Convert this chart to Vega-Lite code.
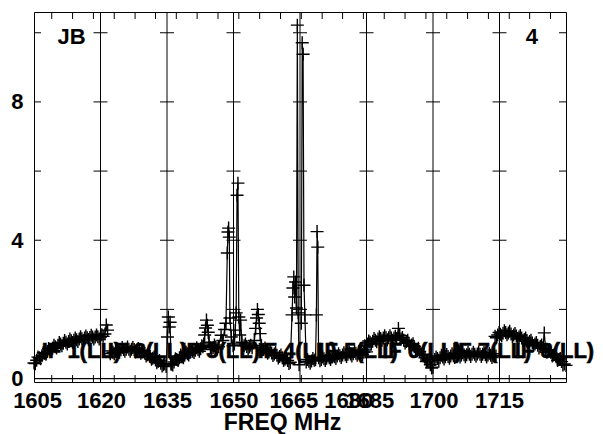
{
  "$schema": "https://vega.github.io/schema/vega-lite/v6.json",
  "width": 532,
  "height": 370,
  "autosize": {"type": "none"},
  "padding": {"left": 34, "top": 12, "right": 37, "bottom": 52},
  "config": {"view": {"stroke": "black", "strokeWidth": 1}, "font": "Liberation Sans"},
  "datasets": {
    "bp": [
      {"IF":1,"f":1605.0,"amp":0.45},{"IF":1,"f":1605.6,"amp":0.53},{"IF":1,"f":1606.2,"amp":0.60},{"IF":1,"f":1606.8,"amp":0.66},{"IF":1,"f":1607.4,"amp":0.73},{"IF":1,"f":1608.0,"amp":0.78},{"IF":1,"f":1608.6,"amp":0.84},{"IF":1,"f":1609.2,"amp":0.88},{"IF":1,"f":1609.8,"amp":0.92},{"IF":1,"f":1610.4,"amp":0.96},{"IF":1,"f":1611.0,"amp":1.00},{"IF":1,"f":1611.6,"amp":1.02},{"IF":1,"f":1612.2,"amp":1.05},{"IF":1,"f":1612.8,"amp":1.07},{"IF":1,"f":1613.4,"amp":1.09},{"IF":1,"f":1614.0,"amp":1.11},{"IF":1,"f":1614.6,"amp":1.12},{"IF":1,"f":1615.2,"amp":1.14},{"IF":1,"f":1615.8,"amp":1.15},{"IF":1,"f":1616.4,"amp":1.17},{"IF":1,"f":1617.0,"amp":1.18},{"IF":1,"f":1617.6,"amp":1.19},{"IF":1,"f":1618.2,"amp":1.20},{"IF":1,"f":1618.8,"amp":1.20},{"IF":1,"f":1619.4,"amp":1.21},{"IF":1,"f":1620.0,"amp":1.20},{"IF":1,"f":1620.6,"amp":1.22},{"IF":1,"f":1621.0,"amp":1.29},{"IF":1,"f":1621.3,"amp":1.55},{"IF":1,"f":1621.6,"amp":1.40},
      {"IF":1,"f":1605.3,"amp":0.43},{"IF":1,"f":1605.9,"amp":0.62},{"IF":1,"f":1606.5,"amp":0.57},{"IF":1,"f":1607.1,"amp":0.75},{"IF":1,"f":1607.7,"amp":0.70},{"IF":1,"f":1608.3,"amp":0.87},{"IF":1,"f":1608.9,"amp":0.80},{"IF":1,"f":1609.5,"amp":0.96},{"IF":1,"f":1610.1,"amp":0.88},{"IF":1,"f":1610.7,"amp":1.04},{"IF":1,"f":1611.3,"amp":0.95},{"IF":1,"f":1611.9,"amp":1.10},{"IF":1,"f":1612.5,"amp":1.00},{"IF":1,"f":1613.1,"amp":1.14},{"IF":1,"f":1613.7,"amp":1.04},{"IF":1,"f":1614.3,"amp":1.17},{"IF":1,"f":1614.9,"amp":1.07},{"IF":1,"f":1615.5,"amp":1.21},{"IF":1,"f":1616.1,"amp":1.10},{"IF":1,"f":1616.7,"amp":1.23},{"IF":1,"f":1617.3,"amp":1.13},{"IF":1,"f":1617.9,"amp":1.25},{"IF":1,"f":1618.5,"amp":1.14},{"IF":1,"f":1619.1,"amp":1.26},{"IF":1,"f":1619.7,"amp":1.14},{"IF":1,"f":1620.3,"amp":1.27},
      {"IF":2,"f":1622.2,"amp":0.72},{"IF":2,"f":1622.8,"amp":0.76},{"IF":2,"f":1623.4,"amp":0.79},{"IF":2,"f":1624.0,"amp":0.81},{"IF":2,"f":1624.6,"amp":0.83},{"IF":2,"f":1625.2,"amp":0.84},{"IF":2,"f":1625.8,"amp":0.85},{"IF":2,"f":1626.4,"amp":0.85},{"IF":2,"f":1627.0,"amp":0.85},{"IF":2,"f":1627.6,"amp":0.84},{"IF":2,"f":1628.2,"amp":0.82},{"IF":2,"f":1628.8,"amp":0.80},{"IF":2,"f":1629.4,"amp":0.77},{"IF":2,"f":1630.0,"amp":0.73},{"IF":2,"f":1630.6,"amp":0.69},{"IF":2,"f":1631.2,"amp":0.64},{"IF":2,"f":1631.8,"amp":0.59},{"IF":2,"f":1632.4,"amp":0.54},{"IF":2,"f":1633.0,"amp":0.49},{"IF":2,"f":1633.6,"amp":0.44},{"IF":2,"f":1634.2,"amp":0.40},{"IF":2,"f":1634.8,"amp":0.35},{"IF":2,"f":1635.1,"amp":1.20},{"IF":2,"f":1635.3,"amp":1.78},{"IF":2,"f":1635.5,"amp":1.49},{"IF":2,"f":1635.7,"amp":1.63},{"IF":2,"f":1635.9,"amp":0.42},
      {"IF":2,"f":1622.5,"amp":0.80},{"IF":2,"f":1623.1,"amp":0.72},{"IF":2,"f":1623.7,"amp":0.86},{"IF":2,"f":1624.3,"amp":0.76},{"IF":2,"f":1624.9,"amp":0.90},{"IF":2,"f":1625.5,"amp":0.79},{"IF":2,"f":1626.1,"amp":0.91},{"IF":2,"f":1626.7,"amp":0.79},{"IF":2,"f":1627.3,"amp":0.90},{"IF":2,"f":1627.9,"amp":0.77},{"IF":2,"f":1628.5,"amp":0.87},{"IF":2,"f":1629.1,"amp":0.73},{"IF":2,"f":1629.7,"amp":0.81},{"IF":2,"f":1630.3,"amp":0.65},{"IF":2,"f":1630.9,"amp":0.72},{"IF":2,"f":1631.5,"amp":0.56},{"IF":2,"f":1632.1,"amp":0.62},{"IF":2,"f":1632.7,"amp":0.46},{"IF":2,"f":1633.3,"amp":0.52},{"IF":2,"f":1633.9,"amp":0.36},{"IF":2,"f":1634.5,"amp":0.43},
      {"IF":3,"f":1636.0,"amp":0.42},{"IF":3,"f":1636.6,"amp":0.48},{"IF":3,"f":1637.2,"amp":0.55},{"IF":3,"f":1637.8,"amp":0.60},{"IF":3,"f":1638.4,"amp":0.64},{"IF":3,"f":1639.0,"amp":0.68},{"IF":3,"f":1639.6,"amp":0.72},{"IF":3,"f":1640.2,"amp":0.76},{"IF":3,"f":1640.8,"amp":0.79},{"IF":3,"f":1641.4,"amp":0.82},{"IF":3,"f":1642.0,"amp":0.84},{"IF":3,"f":1642.6,"amp":0.86},{"IF":3,"f":1643.1,"amp":0.92},{"IF":3,"f":1643.3,"amp":1.00},{"IF":3,"f":1643.5,"amp":1.26},{"IF":3,"f":1643.7,"amp":1.46},{"IF":3,"f":1643.9,"amp":1.69},{"IF":3,"f":1644.1,"amp":1.54},{"IF":3,"f":1644.3,"amp":1.34},{"IF":3,"f":1644.5,"amp":1.05},{"IF":3,"f":1644.8,"amp":0.89},{"IF":3,"f":1645.4,"amp":0.90},{"IF":3,"f":1646.0,"amp":0.91},{"IF":3,"f":1646.6,"amp":0.92},{"IF":3,"f":1647.2,"amp":1.25},{"IF":3,"f":1647.6,"amp":1.10},{"IF":3,"f":1648.0,"amp":1.42},{"IF":3,"f":1648.3,"amp":1.60},{"IF":3,"f":1648.6,"amp":3.63},{"IF":3,"f":1648.75,"amp":4.24},{"IF":3,"f":1648.9,"amp":4.35},{"IF":3,"f":1649.05,"amp":4.09},{"IF":3,"f":1649.2,"amp":1.75},{"IF":3,"f":1649.5,"amp":1.20},{"IF":3,"f":1649.9,"amp":0.95},
      {"IF":3,"f":1636.3,"amp":0.39},{"IF":3,"f":1636.9,"amp":0.57},{"IF":3,"f":1637.5,"amp":0.52},{"IF":3,"f":1638.1,"amp":0.68},{"IF":3,"f":1638.7,"amp":0.60},{"IF":3,"f":1639.3,"amp":0.76},{"IF":3,"f":1639.9,"amp":0.68},{"IF":3,"f":1640.5,"amp":0.84},{"IF":3,"f":1641.1,"amp":0.75},{"IF":3,"f":1641.7,"amp":0.89},{"IF":3,"f":1642.3,"amp":0.79},{"IF":3,"f":1642.85,"amp":0.95},{"IF":3,"f":1645.1,"amp":0.84},{"IF":3,"f":1645.7,"amp":0.97},{"IF":3,"f":1646.3,"amp":0.86},
      {"IF":4,"f":1650.2,"amp":1.00},{"IF":4,"f":1650.4,"amp":1.40},{"IF":4,"f":1650.6,"amp":1.90},{"IF":4,"f":1650.8,"amp":5.30},{"IF":4,"f":1651.0,"amp":5.65},{"IF":4,"f":1651.2,"amp":1.78},{"IF":4,"f":1651.4,"amp":1.26},{"IF":4,"f":1651.6,"amp":1.69},{"IF":4,"f":1651.9,"amp":1.05},{"IF":4,"f":1652.4,"amp":0.95},{"IF":4,"f":1653.0,"amp":0.93},{"IF":4,"f":1653.6,"amp":0.91},{"IF":4,"f":1654.2,"amp":0.89},{"IF":4,"f":1654.7,"amp":1.10},{"IF":4,"f":1655.0,"amp":1.45},{"IF":4,"f":1655.2,"amp":1.75},{"IF":4,"f":1655.4,"amp":2.00},{"IF":4,"f":1655.6,"amp":1.85},{"IF":4,"f":1655.8,"amp":1.60},{"IF":4,"f":1656.0,"amp":1.30},{"IF":4,"f":1656.3,"amp":0.95},{"IF":4,"f":1656.8,"amp":0.84},{"IF":4,"f":1657.4,"amp":0.81},{"IF":4,"f":1658.0,"amp":0.77},{"IF":4,"f":1658.6,"amp":0.74},{"IF":4,"f":1659.2,"amp":0.71},{"IF":4,"f":1659.8,"amp":0.67},{"IF":4,"f":1660.4,"amp":0.64},{"IF":4,"f":1661.0,"amp":0.60},{"IF":4,"f":1661.6,"amp":0.56},{"IF":4,"f":1662.2,"amp":0.52},{"IF":4,"f":1662.8,"amp":0.47},{"IF":4,"f":1663.2,"amp":1.84},{"IF":4,"f":1663.4,"amp":2.62},{"IF":4,"f":1663.6,"amp":2.94},{"IF":4,"f":1663.8,"amp":2.36},{"IF":4,"f":1664.0,"amp":2.79},{"IF":4,"f":1664.2,"amp":2.04},{"IF":4,"f":1664.4,"amp":10.22},{"IF":4,"f":1664.6,"amp":1.90},{"IF":4,"f":1664.8,"amp":0.40},
      {"IF":4,"f":1652.7,"amp":1.00},{"IF":4,"f":1653.3,"amp":0.86},{"IF":4,"f":1653.9,"amp":0.96},{"IF":4,"f":1656.55,"amp":0.83},{"IF":4,"f":1657.1,"amp":0.88},{"IF":4,"f":1657.7,"amp":0.73},{"IF":4,"f":1658.3,"amp":0.82},{"IF":4,"f":1658.9,"amp":0.665},{"IF":4,"f":1659.5,"amp":0.75},{"IF":4,"f":1660.1,"amp":0.595},{"IF":4,"f":1660.7,"amp":0.68},{"IF":4,"f":1661.3,"amp":0.52},{"IF":4,"f":1661.9,"amp":0.60},{"IF":4,"f":1662.5,"amp":0.435},
      {"IF":5,"f":1665.3,"amp":1.60},{"IF":5,"f":1665.5,"amp":9.71},{"IF":5,"f":1665.7,"amp":9.38},{"IF":5,"f":1665.9,"amp":2.70},{"IF":5,"f":1666.1,"amp":1.84},{"IF":5,"f":1666.4,"amp":0.48},{"IF":5,"f":1667.0,"amp":0.50},{"IF":5,"f":1667.6,"amp":0.51},{"IF":5,"f":1668.2,"amp":0.53},{"IF":5,"f":1668.5,"amp":0.54},{"IF":5,"f":1668.7,"amp":1.84},{"IF":5,"f":1668.85,"amp":4.25},{"IF":5,"f":1669.0,"amp":3.80},{"IF":5,"f":1669.2,"amp":0.60},{"IF":5,"f":1669.8,"amp":0.55},{"IF":5,"f":1670.4,"amp":0.57},{"IF":5,"f":1671.0,"amp":0.59},{"IF":5,"f":1671.6,"amp":0.60},{"IF":5,"f":1672.2,"amp":0.62},{"IF":5,"f":1672.8,"amp":0.63},{"IF":5,"f":1673.4,"amp":0.65},{"IF":5,"f":1674.0,"amp":0.66},{"IF":5,"f":1674.6,"amp":0.68},{"IF":5,"f":1675.2,"amp":0.69},{"IF":5,"f":1675.8,"amp":0.70},{"IF":5,"f":1676.4,"amp":0.71},{"IF":5,"f":1677.0,"amp":0.72},{"IF":5,"f":1677.6,"amp":0.73},{"IF":5,"f":1678.2,"amp":0.74},{"IF":5,"f":1678.8,"amp":0.75},{"IF":5,"f":1679.4,"amp":0.76},{"IF":5,"f":1680.0,"amp":0.77},
      {"IF":5,"f":1666.7,"amp":0.55},{"IF":5,"f":1667.3,"amp":0.445},{"IF":5,"f":1667.9,"amp":0.58},{"IF":5,"f":1669.5,"amp":0.515},{"IF":5,"f":1670.1,"amp":0.62},{"IF":5,"f":1670.7,"amp":0.52},{"IF":5,"f":1671.3,"amp":0.655},{"IF":5,"f":1671.9,"amp":0.55},{"IF":5,"f":1672.5,"amp":0.685},{"IF":5,"f":1673.1,"amp":0.58},{"IF":5,"f":1673.7,"amp":0.715},{"IF":5,"f":1674.3,"amp":0.61},{"IF":5,"f":1674.9,"amp":0.745},{"IF":5,"f":1675.5,"amp":0.635},{"IF":5,"f":1676.1,"amp":0.765},{"IF":5,"f":1676.7,"amp":0.655},{"IF":5,"f":1677.3,"amp":0.785},{"IF":5,"f":1677.9,"amp":0.675},{"IF":5,"f":1678.5,"amp":0.805},{"IF":5,"f":1679.1,"amp":0.695},{"IF":5,"f":1679.7,"amp":0.825},
      {"IF":6,"f":1679.6,"amp":0.95},{"IF":6,"f":1680.2,"amp":1.00},{"IF":6,"f":1680.8,"amp":1.05},{"IF":6,"f":1681.4,"amp":1.08},{"IF":6,"f":1682.0,"amp":1.11},{"IF":6,"f":1682.6,"amp":1.14},{"IF":6,"f":1683.2,"amp":1.16},{"IF":6,"f":1683.8,"amp":1.17},{"IF":6,"f":1684.4,"amp":1.18},{"IF":6,"f":1685.0,"amp":1.18},{"IF":6,"f":1685.6,"amp":1.17},{"IF":6,"f":1686.2,"amp":1.17},{"IF":6,"f":1686.8,"amp":1.16},{"IF":6,"f":1687.2,"amp":1.45},{"IF":6,"f":1687.5,"amp":1.25},{"IF":6,"f":1687.8,"amp":1.14},{"IF":6,"f":1688.4,"amp":1.11},{"IF":6,"f":1689.0,"amp":1.07},{"IF":6,"f":1689.6,"amp":1.02},{"IF":6,"f":1690.2,"amp":0.97},{"IF":6,"f":1690.8,"amp":0.92},{"IF":6,"f":1691.4,"amp":0.85},{"IF":6,"f":1692.0,"amp":0.78},{"IF":6,"f":1692.6,"amp":0.69},{"IF":6,"f":1693.2,"amp":0.60},{"IF":6,"f":1693.8,"amp":0.50},{"IF":6,"f":1694.4,"amp":0.40},{"IF":6,"f":1695.0,"amp":0.33},
      {"IF":6,"f":1679.9,"amp":0.915},{"IF":6,"f":1680.5,"amp":1.085},{"IF":6,"f":1681.1,"amp":1.005},{"IF":6,"f":1681.7,"amp":1.155},{"IF":6,"f":1682.3,"amp":1.065},{"IF":6,"f":1682.9,"amp":1.21},{"IF":6,"f":1683.5,"amp":1.105},{"IF":6,"f":1684.1,"amp":1.235},{"IF":6,"f":1684.7,"amp":1.12},{"IF":6,"f":1685.3,"amp":1.235},{"IF":6,"f":1685.9,"amp":1.11},{"IF":6,"f":1686.5,"amp":1.225},{"IF":6,"f":1688.1,"amp":1.185},{"IF":6,"f":1688.7,"amp":1.03},{"IF":6,"f":1689.3,"amp":1.105},{"IF":6,"f":1689.9,"amp":0.935},{"IF":6,"f":1690.5,"amp":1.005},{"IF":6,"f":1691.1,"amp":0.825},{"IF":6,"f":1691.7,"amp":0.875},{"IF":6,"f":1692.3,"amp":0.675},{"IF":6,"f":1692.9,"amp":0.705},{"IF":6,"f":1693.5,"amp":0.49},{"IF":6,"f":1694.1,"amp":0.51},{"IF":6,"f":1694.7,"amp":0.305},
      {"IF":7,"f":1695.4,"amp":0.55},{"IF":7,"f":1696.0,"amp":0.58},{"IF":7,"f":1696.6,"amp":0.60},{"IF":7,"f":1697.2,"amp":0.62},{"IF":7,"f":1697.8,"amp":0.63},{"IF":7,"f":1698.4,"amp":0.64},{"IF":7,"f":1699.0,"amp":0.65},{"IF":7,"f":1699.6,"amp":0.66},{"IF":7,"f":1700.2,"amp":0.67},{"IF":7,"f":1700.8,"amp":0.68},{"IF":7,"f":1701.4,"amp":0.68},{"IF":7,"f":1702.0,"amp":0.69},{"IF":7,"f":1702.6,"amp":0.69},{"IF":7,"f":1703.2,"amp":0.70},{"IF":7,"f":1703.8,"amp":0.70},{"IF":7,"f":1704.4,"amp":0.70},{"IF":7,"f":1705.0,"amp":0.71},{"IF":7,"f":1705.6,"amp":0.70},{"IF":7,"f":1706.2,"amp":0.70},{"IF":7,"f":1706.8,"amp":0.69},{"IF":7,"f":1707.4,"amp":0.68},{"IF":7,"f":1708.0,"amp":0.67},{"IF":7,"f":1708.6,"amp":0.66},{"IF":7,"f":1709.2,"amp":0.65},
      {"IF":7,"f":1695.7,"amp":0.625},{"IF":7,"f":1696.3,"amp":0.53},{"IF":7,"f":1696.9,"amp":0.67},{"IF":7,"f":1697.5,"amp":0.565},{"IF":7,"f":1698.1,"amp":0.695},{"IF":7,"f":1698.7,"amp":0.585},{"IF":7,"f":1699.3,"amp":0.715},{"IF":7,"f":1699.9,"amp":0.605},{"IF":7,"f":1700.5,"amp":0.735},{"IF":7,"f":1701.1,"amp":0.62},{"IF":7,"f":1701.7,"amp":0.745},{"IF":7,"f":1702.3,"amp":0.63},{"IF":7,"f":1702.9,"amp":0.755},{"IF":7,"f":1703.5,"amp":0.64},{"IF":7,"f":1704.1,"amp":0.76},{"IF":7,"f":1704.7,"amp":0.645},{"IF":7,"f":1705.3,"amp":0.765},{"IF":7,"f":1705.9,"amp":0.64},{"IF":7,"f":1706.5,"amp":0.755},{"IF":7,"f":1707.1,"amp":0.625},{"IF":7,"f":1707.7,"amp":0.735},{"IF":7,"f":1708.3,"amp":0.605},{"IF":7,"f":1708.9,"amp":0.715},
      {"IF":8,"f":1709.0,"amp":1.22},{"IF":8,"f":1709.6,"amp":1.26},{"IF":8,"f":1710.2,"amp":1.28},{"IF":8,"f":1710.8,"amp":1.31},{"IF":8,"f":1711.4,"amp":1.33},{"IF":8,"f":1712.0,"amp":1.32},{"IF":8,"f":1712.6,"amp":1.29},{"IF":8,"f":1713.2,"amp":1.26},{"IF":8,"f":1713.8,"amp":1.23},{"IF":8,"f":1714.4,"amp":1.20},{"IF":8,"f":1715.0,"amp":1.17},{"IF":8,"f":1715.6,"amp":1.13},{"IF":8,"f":1716.2,"amp":1.10},{"IF":8,"f":1716.8,"amp":1.07},{"IF":8,"f":1717.4,"amp":1.03},{"IF":8,"f":1718.0,"amp":1.00},{"IF":8,"f":1718.6,"amp":0.96},{"IF":8,"f":1719.2,"amp":0.93},{"IF":8,"f":1719.8,"amp":0.89},{"IF":8,"f":1720.1,"amp":1.32},{"IF":8,"f":1720.4,"amp":0.85},{"IF":8,"f":1721.0,"amp":0.80},{"IF":8,"f":1721.6,"amp":0.75},{"IF":8,"f":1722.2,"amp":0.68},{"IF":8,"f":1722.8,"amp":0.62},{"IF":8,"f":1723.4,"amp":0.55},{"IF":8,"f":1724.0,"amp":0.49},{"IF":8,"f":1724.6,"amp":0.42},{"IF":8,"f":1725.0,"amp":0.38},
      {"IF":8,"f":1709.3,"amp":1.18},{"IF":8,"f":1709.9,"amp":1.33},{"IF":8,"f":1710.5,"amp":1.235},{"IF":8,"f":1711.1,"amp":1.38},{"IF":8,"f":1711.7,"amp":1.265},{"IF":8,"f":1712.3,"amp":1.365},{"IF":8,"f":1712.9,"amp":1.215},{"IF":8,"f":1713.5,"amp":1.305},{"IF":8,"f":1714.1,"amp":1.155},{"IF":8,"f":1714.7,"amp":1.245},{"IF":8,"f":1715.3,"amp":1.09},{"IF":8,"f":1715.9,"amp":1.175},{"IF":8,"f":1716.5,"amp":1.025},{"IF":8,"f":1717.1,"amp":1.11},{"IF":8,"f":1717.7,"amp":0.955},{"IF":8,"f":1718.3,"amp":1.04},{"IF":8,"f":1718.9,"amp":0.885},{"IF":8,"f":1719.5,"amp":0.97},{"IF":8,"f":1720.7,"amp":0.765},{"IF":8,"f":1721.3,"amp":0.835},{"IF":8,"f":1721.9,"amp":0.655},{"IF":8,"f":1722.5,"amp":0.71},{"IF":8,"f":1723.1,"amp":0.525},{"IF":8,"f":1723.7,"amp":0.58},{"IF":8,"f":1724.3,"amp":0.395}
    ],
    "grid": [{"f":1620},{"f":1635},{"f":1650},{"f":1665},{"f":1680},{"f":1695},{"f":1710}],
    "crosses": [
      {"f":1605,"a":2},{"f":1605,"a":4},{"f":1605,"a":6},{"f":1605,"a":8},{"f":1605,"a":10},
      {"f":1620,"a":2},{"f":1620,"a":4},{"f":1620,"a":6},{"f":1620,"a":8},{"f":1620,"a":10},
      {"f":1635,"a":2},{"f":1635,"a":4},{"f":1635,"a":6},{"f":1635,"a":8},{"f":1635,"a":10},
      {"f":1650,"a":2},{"f":1650,"a":4},{"f":1650,"a":6},{"f":1650,"a":8},{"f":1650,"a":10},
      {"f":1665,"a":2},{"f":1665,"a":4},{"f":1665,"a":6},{"f":1665,"a":8},{"f":1665,"a":10},
      {"f":1680,"a":2},{"f":1680,"a":4},{"f":1680,"a":6},{"f":1680,"a":8},{"f":1680,"a":10},
      {"f":1695,"a":2},{"f":1695,"a":4},{"f":1695,"a":6},{"f":1695,"a":8},{"f":1695,"a":10},
      {"f":1710,"a":2},{"f":1710,"a":4},{"f":1710,"a":6},{"f":1710,"a":8},{"f":1710,"a":10},
      {"f":1725,"a":2},{"f":1725,"a":4},{"f":1725,"a":6},{"f":1725,"a":8},{"f":1725,"a":10}
    ],
    "minor": [
      {"f":1609.0},{"f":1613.7},{"f":1618.4},{"f":1623.1},{"f":1627.8},{"f":1632.4},{"f":1637.1},{"f":1641.8},{"f":1646.5},{"f":1651.2},{"f":1655.9},{"f":1660.6},{"f":1665.3},{"f":1670.0},{"f":1674.6},{"f":1679.3},{"f":1684.0},{"f":1688.7},{"f":1693.4},{"f":1698.1},{"f":1702.8},{"f":1707.5},{"f":1712.2},{"f":1716.8},{"f":1721.5}
    ],
    "iflabels": [
      {"f":1615.7,"a":0.79,"t":"IF 1(LL)"},{"f":1630.6,"a":0.79,"t":"IF 2(LL)"},{"f":1647.0,"a":0.79,"t":"IF 3(LL)"},{"f":1664.35,"a":0.79,"t":"IF 4(LL)"},{"f":1678.1,"a":0.79,"t":"IF 5(LL)"},{"f":1692.5,"a":0.79,"t":"IF 6(LL)"},{"f":1708.25,"a":0.79,"t":"IF 7(LL)"},{"f":1722.4,"a":0.79,"t":"IF 8(LL)"}
    ],
    "corner": [
      {"f":1613.45,"a":9.89,"t":"JB"},{"f":1717.3,"a":9.89,"t":"4"}
    ]
  },
  "layer": [
    {
      "data": {"name": "grid"},
      "mark": {"type": "rule", "color": "black", "strokeWidth": 1},
      "encoding": {
        "x": {"field": "f", "type": "quantitative", "scale": {"domain": [1605, 1725], "nice": false, "zero": false},
          "axis": {"orient": "bottom", "values": [1605.7, 1620.1, 1635, 1650, 1663.5, 1675.9, 1680.6, 1695.1, 1709.9],
            "labelExpr": "datum.value < 1606 ? '1605' : datum.value < 1621 ? '1620' : datum.value < 1636 ? '1635' : datum.value < 1651 ? '1650' : datum.value < 1664 ? '1665' : datum.value < 1677 ? '1680' : datum.value < 1681 ? '1685' : datum.value < 1696 ? '1700' : '1715'",
            "ticks": false, "tickSize": 0, "domain": false, "grid": false,
            "labelPadding": 8, "labelFont": "Liberation Sans", "labelFontWeight": "bold", "labelFontSize": 22, "labelColor": "black",
            "labelOverlap": false, "labelFlush": false, "labelBound": false,
            "title": "FREQ MHz", "titleFont": "Liberation Sans", "titleFontWeight": "bold", "titleFontSize": 23, "titleColor": "black",
            "titleX": 248, "titleY": 47, "titleBaseline": "alphabetic", "titleAlign": "center", "titleAnchor": null}}
      }
    },
    {
      "data": {"name": "crosses"},
      "mark": {"type": "tick", "orient": "horizontal", "size": 14, "thickness": 1, "color": "black", "clip": true, "opacity": 1},
      "encoding": {
        "x": {"field": "f", "type": "quantitative", "scale": {"domain": [1605, 1725], "nice": false, "zero": false}},
        "y": {"field": "a", "type": "quantitative", "scale": {"domain": [-0.1, 10.6], "nice": false, "zero": false},
          "axis": {"values": [0, 4, 8], "ticks": false, "tickSize": 0, "domain": false, "grid": false, "labelPadding": 11,
            "labelFont": "Liberation Sans", "labelFontWeight": "bold", "labelFontSize": 22, "labelColor": "black",
            "labelOverlap": false, "labelFlush": false, "labelBound": false, "title": null}}
      }
    },
    {
      "data": {"name": "minor"},
      "mark": {"type": "tick", "orient": "vertical", "size": 7, "thickness": 1, "color": "black", "yOffset": -3.5, "opacity": 1},
      "encoding": {
        "x": {"field": "f", "type": "quantitative", "scale": {"domain": [1605, 1725], "nice": false, "zero": false}},
        "y": {"datum": -0.1, "type": "quantitative", "scale": {"domain": [-0.1, 10.6], "nice": false, "zero": false}}
      }
    },
    {
      "data": {"name": "minor"},
      "mark": {"type": "tick", "orient": "vertical", "size": 7, "thickness": 1, "color": "black", "yOffset": 3.5, "opacity": 1},
      "encoding": {
        "x": {"field": "f", "type": "quantitative", "scale": {"domain": [1605, 1725], "nice": false, "zero": false}},
        "y": {"datum": 10.6, "type": "quantitative", "scale": {"domain": [-0.1, 10.6], "nice": false, "zero": false}}
      }
    },
    {
      "data": {"name": "grid"},
      "mark": {"type": "rule", "color": "black", "strokeWidth": 1},
      "encoding": {
        "y": {"datum": 0, "type": "quantitative", "scale": {"domain": [-0.1, 10.6], "nice": false, "zero": false}}
      }
    },
    {
      "data": {"name": "bp"},
      "mark": {"type": "line", "color": "black", "strokeWidth": 1.2},
      "encoding": {
        "x": {"field": "f", "type": "quantitative", "scale": {"domain": [1605, 1725], "nice": false, "zero": false}},
        "y": {"field": "amp", "type": "quantitative", "scale": {"domain": [-0.1, 10.6], "nice": false, "zero": false}},
        "detail": {"field": "IF", "type": "nominal"}
      }
    },
    {
      "data": {"name": "bp"},
      "mark": {"type": "point", "shape": "M-1,0L1,0M0,-1L0,1", "size": 169, "filled": false, "color": "black", "strokeWidth": 1.4, "opacity": 1},
      "encoding": {
        "x": {"field": "f", "type": "quantitative", "scale": {"domain": [1605, 1725], "nice": false, "zero": false}},
        "y": {"field": "amp", "type": "quantitative", "scale": {"domain": [-0.1, 10.6], "nice": false, "zero": false}}
      }
    },
    {
      "data": {"name": "iflabels"},
      "mark": {"type": "text", "font": "Liberation Sans", "fontWeight": "bold", "fontSize": 22, "color": "black", "stroke": "black", "strokeWidth": 0.6, "align": "center", "baseline": "middle"},
      "encoding": {
        "x": {"field": "f", "type": "quantitative", "scale": {"domain": [1605, 1725], "nice": false, "zero": false}},
        "y": {"field": "a", "type": "quantitative", "scale": {"domain": [-0.1, 10.6], "nice": false, "zero": false}},
        "text": {"field": "t"}
      }
    },
    {
      "data": {"name": "corner"},
      "mark": {"type": "text", "font": "Liberation Sans", "fontWeight": "bold", "fontSize": 22, "color": "black", "align": "center", "baseline": "middle"},
      "encoding": {
        "x": {"field": "f", "type": "quantitative", "scale": {"domain": [1605, 1725], "nice": false, "zero": false}},
        "y": {"field": "a", "type": "quantitative", "scale": {"domain": [-0.1, 10.6], "nice": false, "zero": false}},
        "text": {"field": "t"}
      }
    }
  ]
}
